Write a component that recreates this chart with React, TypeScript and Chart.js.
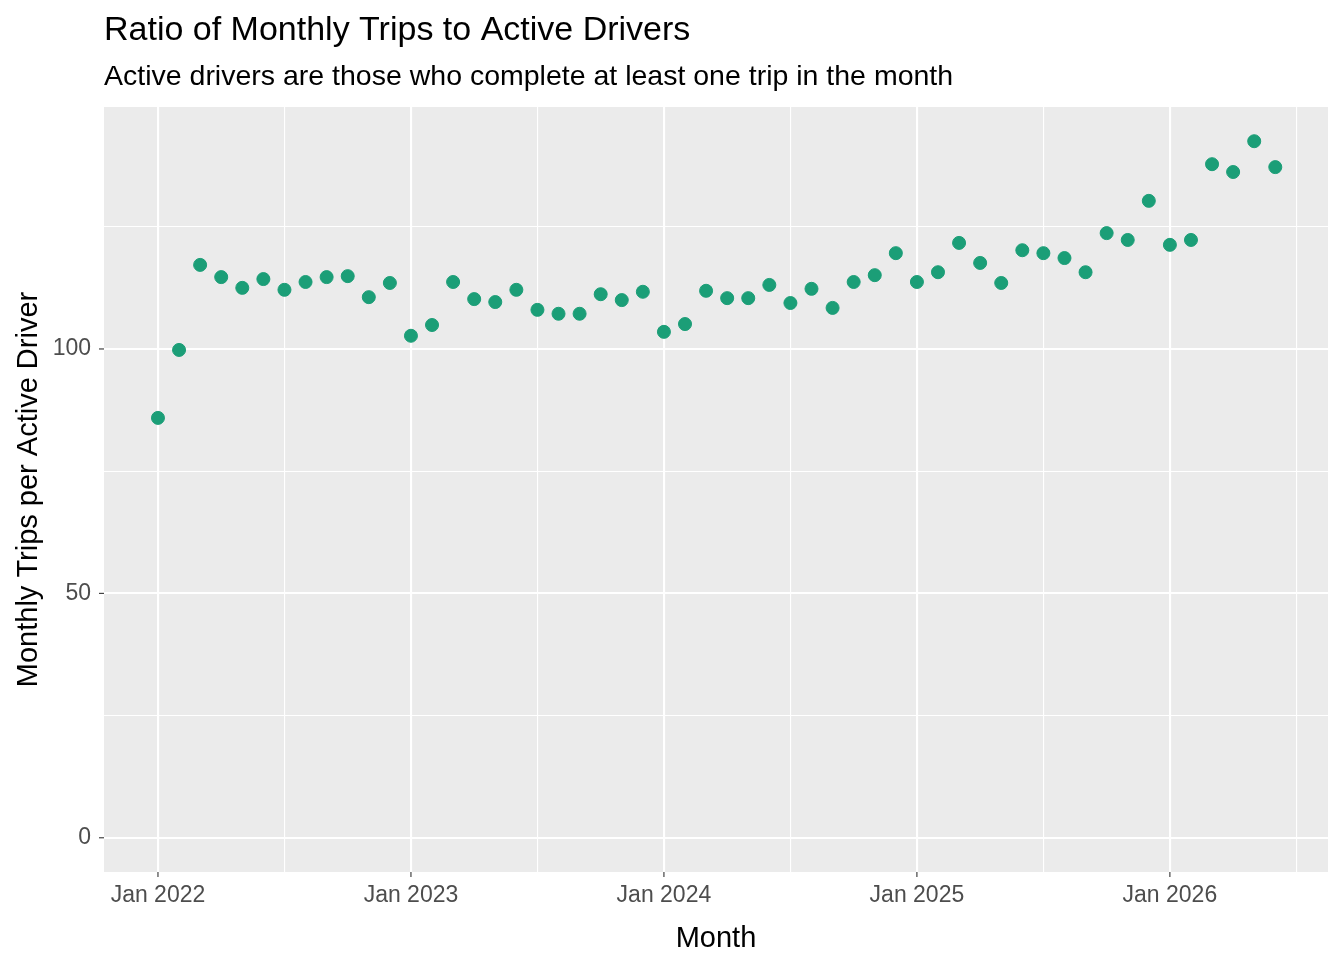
import React, { useEffect, useRef } from "react";
import { Chart, registerables } from "chart.js";
Chart.register(...registerables);

const monthIndex: number[] = Array.from({ length: 54 }, (_, i) => i);
const ratios: number[] = [
  85.9, 99.8, 117.2, 114.7, 112.5, 114.3, 112.1, 113.7, 114.7, 114.9, 110.6, 113.5,
  102.7, 104.9, 113.7, 110.2, 109.6, 112.1, 108.0, 107.2, 107.2, 111.2, 110.0, 111.7,
  103.5, 105.1, 111.9, 110.4, 110.4, 113.1, 109.4, 112.3, 108.4, 113.7, 115.1, 119.6,
  113.7, 115.7, 121.7, 117.6, 113.5, 120.2, 119.6, 118.6, 115.7, 123.7, 122.3, 130.3,
  121.3, 122.3, 137.8, 136.2, 142.5, 137.2,
];
const xTickLabels: Record<number, string> = { 0: "Jan 2022", 12: "Jan 2023", 24: "Jan 2024", 36: "Jan 2025", 48: "Jan 2026" };
const yTickLabels: number[] = [0, 50, 100];
const FONT = "'Liberation Sans', Arial, sans-serif";

export default function App() {
  const ref = useRef<HTMLCanvasElement>(null);
  useEffect(() => {
    const deco = {
      id: "deco",
      beforeDraw(c: any) {
        const { ctx, chartArea: a } = c;
        ctx.save();
        ctx.fillStyle = "#EBEBEB";
        ctx.fillRect(a.left, a.top, a.right - a.left, a.bottom - a.top);
        ctx.restore();
      },
      afterDraw(c: any) {
        const { ctx, chartArea: a, scales } = c;
        ctx.save();
        ctx.strokeStyle = "#333333";
        ctx.lineWidth = 1.1;
        for (const k of Object.keys(xTickLabels)) {
          const x = scales.x.getPixelForValue(Number(k));
          ctx.beginPath(); ctx.moveTo(x, a.bottom); ctx.lineTo(x, a.bottom + 5); ctx.stroke();
        }
        for (const v of yTickLabels) {
          const y = scales.y.getPixelForValue(v);
          ctx.beginPath(); ctx.moveTo(a.left - 5, y); ctx.lineTo(a.left, y); ctx.stroke();
        }
        ctx.fillStyle = "#000";
        ctx.textBaseline = "alphabetic";
        ctx.font = `34px ${FONT}`;
        ctx.fillText("Ratio of Monthly Trips to Active Drivers", a.left, 40);
        ctx.font = `28.5px ${FONT}`;
        ctx.fillText("Active drivers are those who complete at least one trip in the month", a.left, 85);
        ctx.restore();
      },
    };
    const chart = new Chart(ref.current!, {
      type: "scatter",
      data: {
        datasets: [{
          data: monthIndex.map((m, i) => ({ x: m, y: ratios[i] })),
          backgroundColor: "#1B9E77",
          borderColor: "#1B9E77",
          pointRadius: 6.5,
        }],
      },
      options: {
        animation: false,
        responsive: false,
        layout: { padding: { top: 107, right: 16, left: 0, bottom: 0 } },
        plugins: { legend: { display: false }, tooltip: { enabled: false } },
        scales: {
          x: {
            type: "linear", min: -2.56, max: 55.5,
            afterBuildTicks: (s: any) => { s.ticks = [-6, 0, 6, 12, 18, 24, 30, 36, 42, 48, 54].filter(v => v >= s.min && v <= s.max).map(v => ({ value: v })); },
            afterFit: (s: any) => { s.height = 88; },
            border: { display: false },
            grid: {
              color: "#FFFFFF",
              lineWidth: (ctx: any) => (ctx.tick && ctx.tick.value % 12 === 0 ? 2.1 : 1.1),
              drawTicks: false,
            },
            ticks: {
              autoSkip: false, maxRotation: 0, padding: 10,
              color: "#4D4D4D", font: { family: FONT, size: 23 },
              callback: (v: any) => xTickLabels[Number(v)] ?? "",
            },
            title: { display: true, text: "Month", color: "#000", font: { family: FONT, size: 29 }, padding: { top: 2 } },
          },
          y: {
            min: -7, max: 149.5,
            afterBuildTicks: (s: any) => { s.ticks = [0, 25, 50, 75, 100, 125].map(v => ({ value: v })); },
            afterFit: (s: any) => { s.width = 104; },
            border: { display: false },
            grid: {
              color: "#FFFFFF",
              lineWidth: (ctx: any) => (ctx.tick && ctx.tick.value % 50 === 0 ? 2.1 : 1.1),
              drawTicks: false,
            },
            ticks: {
              autoSkip: false, padding: 13,
              color: "#4D4D4D", font: { family: FONT, size: 23 },
              callback: (v: any) => (yTickLabels.includes(Number(v)) ? String(v) : ""),
            },
            title: { display: true, text: "Monthly Trips per Active Driver", color: "#000", font: { family: FONT, size: 29 }, padding: { top: 12, bottom: 4 } },
          },
        },
      },
      plugins: [deco],
    });
    return () => chart.destroy();
  }, []);
  return <canvas ref={ref} width={1344} height={960} style={{ position: "absolute", left: 0, top: 0 }} />;
}
